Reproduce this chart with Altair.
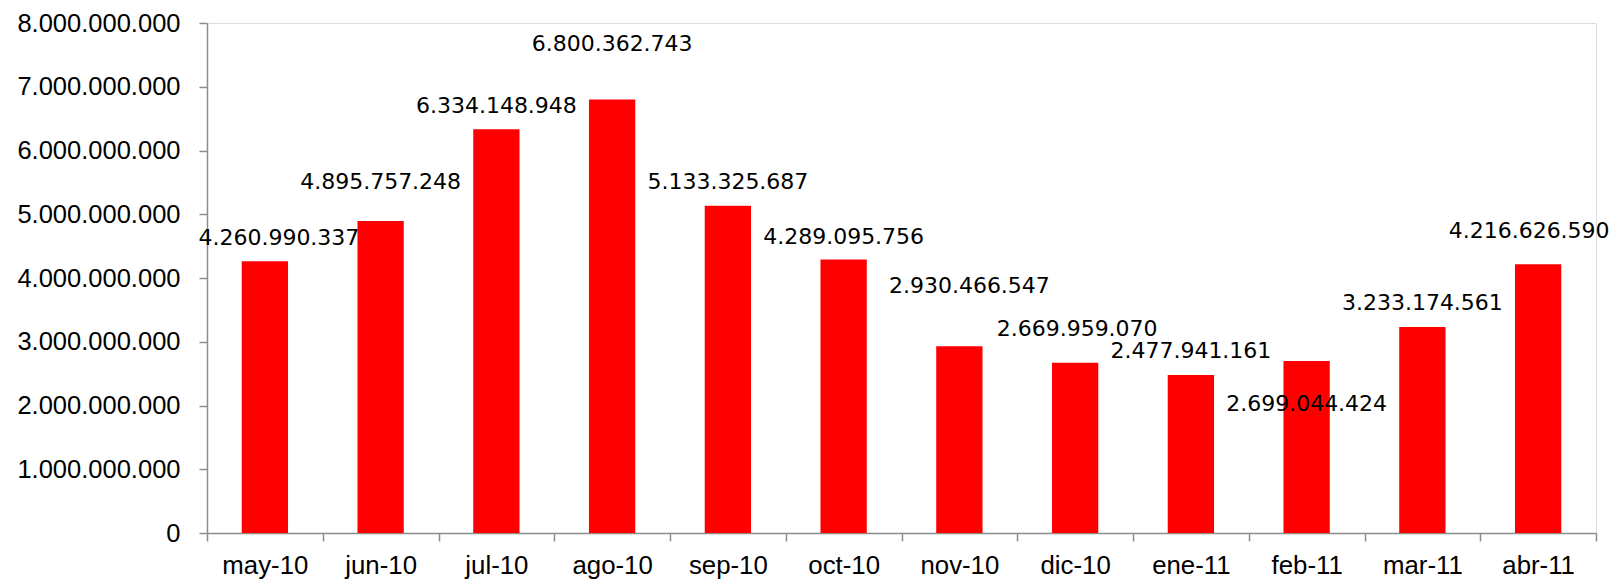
import altair as alt
import pandas as pd

months = ["may-10", "jun-10", "jul-10", "ago-10", "sep-10", "oct-10",
          "nov-10", "dic-10", "ene-11", "feb-11", "mar-11", "abr-11"]
values = [4260990337, 4895757248, 6334148948, 6800362743, 5133325687, 4289095756,
          2930466547, 2669959070, 2477941161, 2699044424, 3233174561, 4216626590]
# where each data label sits (in value units), as placed in the original
label_at = [4.627e9, 5.506e9, 6.698e9, 7.671e9, 5.506e9, 4.643e9,
            3.875e9, 3.200e9, 2.855e9, 2.024e9, 3.608e9, 4.737e9]
label_dx = [14, 0, 0, 0, 0, 0, 10, 2, 0, 0, 0, -9]


def fmt(v):
    return f"{v:,}".replace(",", ".")


df = pd.DataFrame({
    "month": months,
    "value": values,
    "label_at": label_at,
    "dx": label_dx,
    "label": [fmt(v) for v in values],
})

x = alt.X("month:N", sort=months, title=None,
          scale=alt.Scale(paddingInner=0, paddingOuter=0),
          axis=alt.Axis(labelAngle=0, tickBand="extent", tickSize=8,
                        labelPadding=12, labelFont="Liberation Sans",
                        labelFontSize=25.8, labelColor="#000000",
                        domainColor="#8c8c8c", tickColor="#8c8c8c",
                        domainWidth=1.5, tickWidth=1.5))

y_scale = alt.Scale(domain=[0, 8e9], nice=False)

bars = alt.Chart(df).mark_bar(color="#ff0000", width=alt.RelativeBandSize(0.4)).encode(
    x=x,
    y=alt.Y("value:Q", scale=y_scale, title=None,
            axis=alt.Axis(values=[i * 1e9 for i in range(9)], grid=False,
                          tickSize=8, labelPadding=19,
                          labelFont="Liberation Sans", labelFontSize=25.5,
                          labelColor="#000000", domainColor="#8c8c8c",
                          tickColor="#8c8c8c", domainWidth=1.5, tickWidth=1.5,
                          labelExpr="replace(format(datum.value, ',d'), regexp(',', 'g'), '.')")),
)

label_layers = []
for d in sorted(set(label_dx)):
    label_layers.append(
        alt.Chart(df).transform_filter(f"datum.dx == {d}").mark_text(
            font="DejaVu Sans", fontSize=22, color="#000000",
            baseline="middle", align="center", dx=d).encode(
            x=alt.X("month:N", sort=months),
            y=alt.Y("label_at:Q", scale=y_scale),
            text="label:N",
        )
    )

chart = alt.layer(bars, *label_layers).properties(
    width=1389, height=510,
    autosize=alt.AutoSizeParams(type="none"),
    padding={"left": 199, "top": 15, "right": 15, "bottom": 47},
).configure_view(stroke=None).configure(background="#ffffff")

chart.save("out.html", embed_options={"renderer": "svg", "actions": False})
